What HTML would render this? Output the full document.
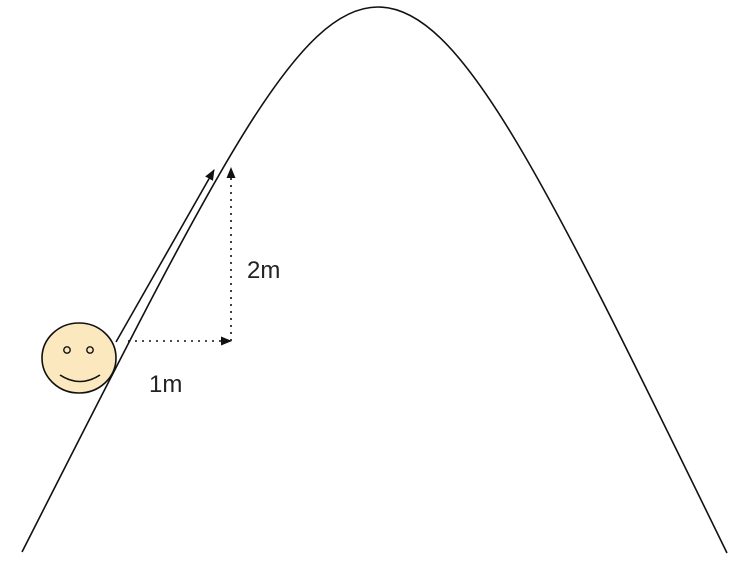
<!DOCTYPE html>
<html><head><meta charset="utf-8"><style>
html,body{margin:0;padding:0;background:#fff;width:752px;height:567px;overflow:hidden}
svg{display:block}
text{font-family:"Liberation Sans",sans-serif;font-size:24px;fill:#222}
</style></head><body>
<svg width="752" height="567" viewBox="0 0 752 567">
<defs>
<marker id="ah" markerWidth="11" markerHeight="9" refX="10" refY="4.5" orient="auto" markerUnits="userSpaceOnUse">
<path d="M0,0 L11,4.5 L0,9 Z" fill="#111"/></marker>
</defs>
<path d="M22,552 C216,170 296,7 378,7 C460,7 540,170 727,553" fill="none" stroke="#111" stroke-width="1.6"/>
<line x1="116" y1="342" x2="214" y2="170" stroke="#111" stroke-width="1.6" marker-end="url(#ah)"/>
<line x1="128" y1="341" x2="231" y2="341" stroke="#111" stroke-width="1.6" stroke-dasharray="2,5" marker-end="url(#ah)"/>
<line x1="231" y1="341" x2="231" y2="168" stroke="#111" stroke-width="1.6" stroke-dasharray="2,5" marker-end="url(#ah)"/>
<g>
<ellipse cx="79" cy="358" rx="37" ry="35" fill="#fbe8bf" stroke="#111" stroke-width="1.6"/>
<circle cx="67" cy="350" r="3.2" fill="none" stroke="#111" stroke-width="1.4"/>
<circle cx="90" cy="350" r="3.2" fill="none" stroke="#111" stroke-width="1.4"/>
<path d="M60,375 Q80,388 100,375" fill="none" stroke="#111" stroke-width="1.6"/>
</g>
<text x="247" y="278">2m</text>
<text x="149" y="392">1m</text>
</svg>
</body></html>
